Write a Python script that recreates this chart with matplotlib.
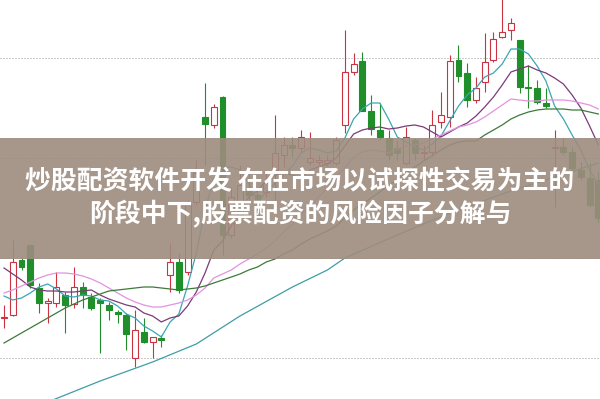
import matplotlib
matplotlib.use("Agg")
import matplotlib.pyplot as plt
from matplotlib.patches import Rectangle
import numpy as np

plt.rcParams['font.family'] = ['Noto Sans CJK SC', 'DejaVu Sans']

# daily candles (open, close, high, low)
opens = [9.40, 9.43, 9.98, 10.13, 9.70, 9.55, 9.55, 9.63, 9.54, 9.71,
         9.61, 9.58, 9.53, 9.46, 9.43, 9.00, 9.26, 9.16, 9.20, 9.83,
         9.96, 9.86, 10.56, 11.41, 11.33, 11.61, 10.23, 10.43, 10.68, 10.63,
         10.66, 10.88, 11.03, 11.13, 11.10, 10.96, 10.96, 10.95, 10.95, 11.33,
         11.86, 11.97, 11.47, 11.28, 11.20, 11.10, 10.95, 11.18, 11.05, 11.06,
         11.36, 11.41, 11.98, 11.85, 11.58, 11.76, 11.98, 12.21, 12.28, 12.18,
         11.71, 11.70, 11.55, 11.10, 11.11, 11.06, 10.88, 10.80, 10.78]
closes = [9.41, 9.96, 9.91, 9.73, 9.55, 9.57, 9.71, 9.53, 9.71, 9.63,
          9.50, 9.55, 9.48, 9.44, 9.24, 9.28, 9.16, 9.21, 9.18, 9.96,
          9.68, 10.56, 10.85, 11.34, 11.51, 10.23, 10.61, 10.73, 10.63, 10.58,
          10.75, 11.05, 11.13, 11.10, 11.21, 11.00, 10.98, 10.98, 11.18, 11.86,
          11.94, 11.47, 11.29, 11.21, 11.03, 11.05, 11.21, 11.05, 11.06, 11.33,
          11.43, 11.97, 11.82, 11.58, 11.70, 11.96, 12.19, 12.26, 12.35, 11.71,
          11.70, 11.56, 11.52, 11.11, 11.06, 10.90, 10.81, 10.53, 10.40]
highs = [9.53, 10.18, 10.01, 10.13, 9.75, 9.60, 9.86, 9.66, 9.91, 9.76,
         9.65, 9.60, 9.56, 9.48, 9.45, 9.48, 9.40, 9.21, 9.23, 10.15,
         10.05, 10.58, 10.98, 11.75, 11.54, 11.62, 10.71, 10.93, 10.86, 10.71,
         10.88, 11.43, 11.21, 11.21, 11.28, 11.26, 11.03, 11.03, 11.21, 12.28,
         12.05, 12.06, 11.63, 11.55, 11.28, 11.18, 11.31, 11.20, 11.13, 11.48,
         11.66, 12.03, 12.13, 11.95, 11.81, 12.25, 12.26, 12.65, 12.40, 12.18,
         11.93, 11.78, 11.70, 11.28, 11.20, 11.11, 10.96, 10.95, 10.86]
lows = [9.30, 9.42, 9.88, 9.70, 9.45, 9.35, 9.51, 9.25, 9.50, 9.50,
        9.48, 9.05, 9.38, 9.35, 9.08, 8.91, 9.15, 9.00, 9.11, 9.66,
        9.65, 9.83, 10.53, 10.93, 11.30, 10.03, 10.20, 10.38, 10.55, 10.56,
        10.61, 10.51, 10.91, 11.01, 11.05, 10.93, 10.93, 10.92, 10.93, 11.25,
        11.83, 11.47, 11.23, 11.18, 10.98, 10.98, 10.93, 10.98, 10.98, 11.03,
        11.30, 11.31, 11.76, 11.51, 11.55, 11.66, 11.96, 12.20, 12.18, 11.65,
        11.50, 11.54, 11.50, 10.51, 11.03, 10.86, 10.78, 10.51, 10.36]

# moving averages
ma5 = [9.62, 9.58, 9.60, 9.65, 9.71, 9.74, 9.69, 9.62, 9.61, 9.63,
       9.62, 9.58, 9.57, 9.52, 9.44, 9.40, 9.32, 9.27, 9.21, 9.36,
       9.44, 9.72, 10.05, 10.48, 10.79, 10.90, 10.91, 10.88, 10.74, 10.56,
       10.66, 10.75, 10.83, 10.92, 11.05, 11.10, 11.08, 11.05, 11.07, 11.20,
       11.39, 11.49, 11.55, 11.55, 11.39, 11.21, 11.16, 11.11, 11.08, 11.14,
       11.22, 11.37, 11.52, 11.63, 11.70, 11.81, 11.85, 11.94, 12.09, 12.09,
       12.04, 11.92, 11.77, 11.52, 11.39, 11.23, 11.08, 10.88, 10.74]
ma10 = [9.90, 9.84, 9.78, 9.71, 9.68, 9.67, 9.67, 9.66, 9.66, 9.67,
        9.68, 9.63, 9.59, 9.56, 9.53, 9.51, 9.45, 9.42, 9.36, 9.40,
        9.42, 9.52, 9.66, 9.85, 10.08, 10.17, 10.32, 10.47, 10.61, 10.67,
        10.78, 10.83, 10.85, 10.83, 10.80, 10.88, 10.91, 10.94, 11.00, 11.12,
        11.24, 11.28, 11.30, 11.31, 11.29, 11.30, 11.32, 11.33, 11.31, 11.26,
        11.21, 11.26, 11.31, 11.35, 11.42, 11.51, 11.61, 11.73, 11.86, 11.89,
        11.92, 11.88, 11.85, 11.80, 11.74, 11.63, 11.50, 11.32, 11.13]
ma20 = [9.65, 9.68, 9.72, 9.76, 9.80, 9.83, 9.85, 9.85, 9.84, 9.82,
        9.79, 9.75, 9.70, 9.65, 9.60, 9.56, 9.53, 9.51, 9.51, 9.53,
        9.55, 9.58, 9.63, 9.70, 9.80, 9.84, 9.88, 9.94, 9.99, 10.04,
        10.10, 10.17, 10.26, 10.34, 10.44, 10.52, 10.61, 10.70, 10.80, 10.90,
        11.01, 11.06, 11.08, 11.07, 11.05, 11.09, 11.12, 11.13, 11.15, 11.19,
        11.23, 11.27, 11.31, 11.33, 11.36, 11.41, 11.47, 11.53, 11.59, 11.58,
        11.57, 11.57, 11.58, 11.58, 11.58, 11.57, 11.55, 11.53, 11.49]
ma30 = [9.15, 9.20, 9.25, 9.30, 9.35, 9.40, 9.45, 9.50, 9.54, 9.58,
        9.61, 9.64, 9.67, 9.68, 9.69, 9.70, 9.71, 9.71, 9.70, 9.69,
        9.68, 9.69, 9.70, 9.72, 9.75, 9.78, 9.81, 9.84, 9.88, 9.91,
        9.96, 9.99, 10.04, 10.08, 10.14, 10.19, 10.23, 10.27, 10.32, 10.40,
        10.48, 10.54, 10.60, 10.66, 10.73, 10.78, 10.85, 10.91, 10.97, 11.02,
        11.08, 11.13, 11.16, 11.17, 11.17, 11.23, 11.28, 11.33, 11.39, 11.43,
        11.46, 11.48, 11.49, 11.49, 11.49, 11.48, 11.48, 11.46, 11.44]
ma60_idx = [5, 11, 17, 22, 27, 33, 37, 39, 45, 51, 57, 63, 68]
ma60 = [8.56, 8.77, 8.96, 9.14, 9.42, 9.71, 9.88, 10.00, 10.23, 10.45,
        10.64, 10.81, 10.95]

grid_levels = [9.0, 10.0, 11.0, 12.0]

title_lines = ["炒股配资软件开发 在在市场以试探性交易为主的",
               "阶段中下,股票配资的风险因子分解与"]

RED = "#cc3340"
GREEN = "#1f8f2a"

fig = plt.figure(figsize=(6, 3.99), dpi=100)
ax = fig.add_axes([0, 0, 1, 1])
ax.set_xlim(-0.46, 68.19)
ax.set_ylim(8.59, 12.58)
ax.axis("off")

for lv in grid_levels:
    ax.axhline(lv, color="#9a9a9a", lw=0.72, ls=(0, (1, 2)), zorder=0)

x = np.arange(len(opens))
o = np.array(opens)
c = np.array(closes)
up = c >= o
colors = np.where(up, RED, GREEN)

ax.vlines(x, lows, highs, colors=colors, lw=0.8, zorder=2)
bottom = np.minimum(o, c)
height = np.maximum(np.abs(c - o), 0.005)
ax.bar(x[up], height[up], bottom=bottom[up], width=0.68,
       facecolor="white", edgecolor=RED, lw=0.8, zorder=3)
ax.bar(x[~up], height[~up], bottom=bottom[~up], width=0.68,
       facecolor=GREEN, edgecolor=GREEN, lw=0.8, zorder=3)

ax.plot(x, ma5, color="#3aa6b4", lw=0.9, zorder=4)
ax.plot(x, ma10, color="#7b3a78", lw=0.9, zorder=4)
ax.plot(x, ma20, color="#e292e0", lw=0.9, zorder=4)
ax.plot(x, ma30, color="#3d7a3a", lw=0.9, zorder=4)
ax.plot(ma60_idx, ma60, color="#3f9da4", lw=0.9, zorder=4)

# caption banner over the chart
ax.add_patch(Rectangle((0, 0.352), 1, 0.302, transform=ax.transAxes,
                       facecolor="#9e8c7f", alpha=0.9, edgecolor="none",
                       zorder=10))
ax.text(0.5, 0.544, title_lines[0], transform=ax.transAxes, ha="center",
        va="center", color="white", fontsize=18.6, fontweight="bold", zorder=11)
ax.text(0.5, 0.462, title_lines[1], transform=ax.transAxes, ha="center",
        va="center", color="white", fontsize=18.6, fontweight="bold", zorder=11)

fig.savefig("out.png", dpi=100)
